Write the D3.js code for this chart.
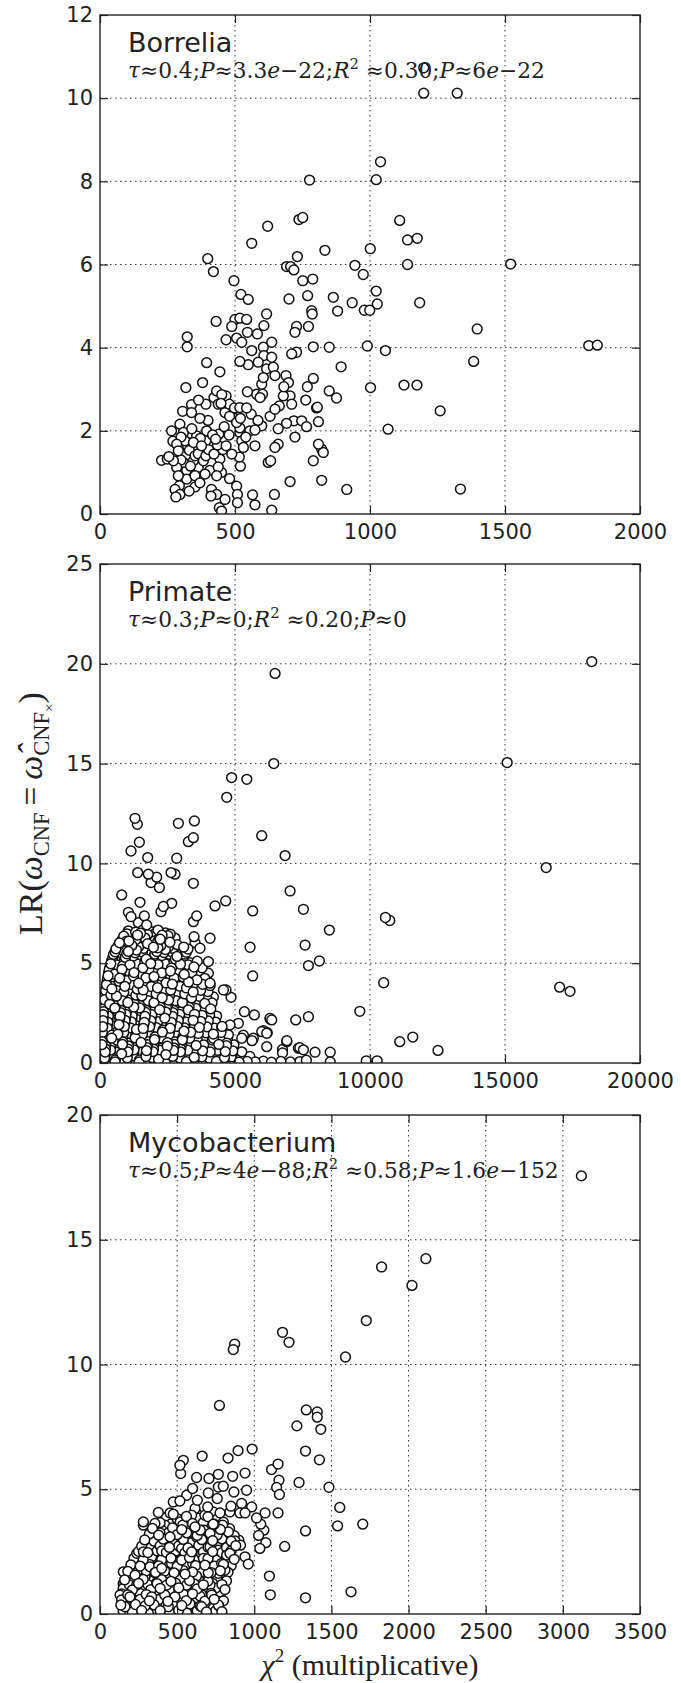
<!DOCTYPE html>
<html>
<head>
<meta charset="utf-8">
<script src="https://cdn.jsdelivr.net/npm/d3@7"></script>
<style>
body { margin: 0; background: #fff; }
</style>
</head>
<body>
<svg width="681" height="1683"></svg>
<script>
// values: [chi2, LR]
var borrelia = [
  [562,6.51],[833,6.34],[399,6.14],[420,5.83],[731,6.19],[691,5.95],[706,5.95],[718,5.87],[944,5.98],[496,5.61],
  [751,5.61],[788,5.65],[522,5.28],[549,5.16],[700,5.17],[769,5.25],[864,5.21],[934,5.08],[880,4.88],[784,4.89],
  [786,4.81],[617,4.81],[430,4.63],[500,4.68],[518,4.71],[543,4.68],[488,4.51],[607,4.53],[728,4.51],[722,4.37],
  [772,4.51],[323,4.26],[323,4.02],[467,4.19],[506,4.23],[525,4.13],[546,4.37],[583,4.33],[636,4.13],[562,3.93],
  [605,4.01],[607,3.81],[636,3.77],[710,3.85],[728,3.89],[790,4.02],[849,4.01],[395,3.64],[518,3.67],[549,3.59],
  [586,3.65],[444,3.42],[893,3.54],[617,3.49],[642,3.53],[648,3.33],[605,3.28],[599,3.12],[602,2.88],[689,3.33],
  [698,3.16],[681,3.06],[704,2.84],[679,2.84],[790,3.26],[768,3.06],[318,3.04],[380,3.16],[849,2.96],[876,2.79],
  [546,2.94],[580,2.88],[593,2.80],[432,2.96],[451,2.87],[467,2.84],[422,2.80],[438,2.64],[365,2.74],[339,2.63],
  [392,2.64],[306,2.47],[339,2.44],[448,2.66],[479,2.64],[498,2.55],[518,2.56],[543,2.55],[463,2.44],[710,2.64],
  [664,2.60],[648,2.52],[762,2.74],[802,2.55],[498,2.30],[506,2.20],[691,2.18],[718,2.24],[747,2.24],[765,2.10],
  [809,2.22],[599,2.12],[518,2.07],[555,2.00],[574,2.02],[722,1.85],[265,2.00],[296,2.16],[309,1.96],[284,1.68],
  [333,1.94],[358,1.88],[395,2.00],[417,1.90],[440,1.92],[392,1.76],[315,1.76],[346,1.72],[376,1.64],[407,1.68],
  [435,1.66],[467,1.64],[488,1.44],[518,1.96],[525,1.76],[531,1.60],[574,1.64],[290,1.52],[331,1.53],[364,1.45],
  [392,1.40],[422,1.44],[444,1.32],[228,1.29],[249,1.32],[272,1.28],[309,1.24],[346,1.28],[383,1.28],[516,1.37],
  [648,1.60],[660,1.68],[623,1.24],[632,1.28],[809,1.68],[821,1.56],[827,1.48],[790,1.28],[284,1.12],[321,1.05],
  [364,1.12],[407,1.05],[438,1.13],[290,0.92],[321,0.84],[352,0.92],[389,0.96],[432,0.92],[294,0.68],[352,0.65],
  [278,0.59],[296,0.47],[281,0.41],[413,0.59],[432,0.47],[463,0.35],[411,0.43],[506,0.67],[509,0.47],[565,0.46],
  [574,0.22],[442,0.15],[450,0.07],[509,0.27],[636,0.09],[646,0.47],[704,0.78],[821,0.81],[914,0.59],
  [300,1.85],[325,1.62],[352,1.40],[372,1.82],[402,1.55],[428,1.80],[455,1.55],[478,1.90],[340,2.05],[370,2.30],
  [400,2.25],[300,1.30],[335,1.15],[255,1.38],[270,1.75],[460,2.10],[480,2.35],[520,2.30],[540,1.85],[560,2.40],
  [585,2.25],[630,2.35],[660,2.05],[450,1.00],[480,0.85],[370,0.75],[330,0.55],[520,1.15],
  [1199,10.12],[1323,10.12],[1199,10.73],[776,8.03],[1039,8.47],[1023,8.04],[737,7.08],[751,7.13],[621,6.92],[1110,7.06],
  [1139,6.59],[1175,6.63],[1001,6.38],[1139,6.0],[1521,6.01],[975,5.76],[1184,5.08],[979,4.90],[999,4.90],[1023,5.36],
  [1027,5.05],[1397,4.45],[1810,4.05],[1842,4.06],[990,4.04],[1057,3.93],[1384,3.67],[1126,3.10],[1174,3.10],[1002,3.04],
  [1260,2.48],[1067,2.04],[1335,0.6],[805,2.57]
]

var primate = [
  // dense mass near the origin
  [1050,6.62],[1320,6.55],[1600,6.68],[1880,6.58],[2150,6.66],[2420,6.52],
  [1000,6.47],[1250,6.41],[1500,6.50],[1760,6.43],[2030,6.48],[2300,6.40],[2600,6.46],
  [880,6.35],[1130,6.22],[1390,6.41],[1660,6.27],[1950,6.33],[2230,6.20],[2520,6.38],[2780,6.25],
  [820,6.17],[1070,6.11],[1330,6.19],[1590,6.12],[1870,6.16],[2140,6.09],[2420,6.18],[2700,6.13],
  [720,6.02],[980,6.10],[1240,5.95],[1480,6.06],[1760,5.98],[2030,6.12],[2310,5.96],[2590,6.05],[2860,5.93],
  [680,5.87],[930,5.81],[1180,5.89],[1430,5.83],[1700,5.86],[1980,5.80],[2250,5.88],[2540,5.82],[2820,5.87],[3100,5.81],
  [590,5.72],[830,5.65],[1080,5.78],[1350,5.66],[1610,5.75],[1880,5.62],[2140,5.77],[2420,5.68],[2700,5.74],[2980,5.64],[3260,5.71],
  [560,5.57],[800,5.51],[1050,5.59],[1300,5.52],[1570,5.56],[1830,5.50],[2100,5.58],[2370,5.53],[2650,5.57],[2930,5.51],[3200,5.55],
  [500,5.44],[730,5.36],[990,5.47],[1220,5.35],[1500,5.42],[1770,5.33],[2030,5.46],[2290,5.38],[2580,5.44],[2850,5.34],[3130,5.45],
  [470,5.27],[690,5.21],[940,5.29],[1190,5.22],[1440,5.26],[1710,5.20],[1970,5.28],[2240,5.23],[2510,5.27],[2790,5.21],[3080,5.25],
  [430,5.12],[650,5.05],[900,5.16],[1160,5.04],[1410,5.13],[1660,5.07],[1930,5.15],[2190,5.02],[2460,5.11],[2740,5.06],[3020,5.14],[3320,5.03],[3600,5.10],
  [400,4.97],[620,4.91],[870,4.99],[1110,4.92],[1370,4.96],[1630,4.90],[1880,4.98],[2150,4.93],[2420,4.97],[2700,4.91],[2980,4.95],[3260,4.92],
  [370,4.82],[600,4.75],[840,4.86],[1080,4.74],[1330,4.84],[1590,4.77],[1840,4.85],[2100,4.73],[2370,4.83],[2650,4.76],[2930,4.86],[3200,4.74],[3480,4.81],[3780,4.77],
  [340,4.67],[570,4.61],[810,4.69],[1050,4.62],[1300,4.66],[1560,4.60],[1810,4.68],[2070,4.63],[2330,4.67],[2610,4.61],[2890,4.65],[3160,4.62],
  [320,4.52],[540,4.45],[780,4.55],[1020,4.44],[1260,4.53],[1520,4.46],[1770,4.56],[2030,4.43],[2290,4.52],[2560,4.47],[2840,4.54],[3120,4.44],[3400,4.53],[3690,4.46],[3950,4.52],
  [300,4.37],[520,4.31],[760,4.39],[1000,4.32],[1240,4.36],[1490,4.30],[1740,4.38],[2000,4.33],[2260,4.37],[2520,4.31],[2800,4.35],[3080,4.32],
  [280,4.22],[500,4.15],[730,4.25],[970,4.13],[1210,4.23],[1450,4.16],[1700,4.26],[1960,4.14],[2220,4.22],[2480,4.17],[2750,4.25],[3030,4.13],[3310,4.23],[3590,4.16],[3880,4.24],
  [260,4.07],[480,4.01],[710,4.09],[950,4.02],[1190,4.06],[1430,4.00],[1680,4.08],[1930,4.03],[2190,4.07],[2450,4.01],[2720,4.05],[3000,4.02],[3280,4.06],
  [240,3.92],[460,3.85],[690,3.95],[920,3.84],[1160,3.93],[1400,3.86],[1650,3.96],[1900,3.83],[2150,3.92],[2410,3.87],[2680,3.95],[2960,3.84],[3230,3.93],[3520,3.86],[3800,3.94],[4080,3.88],
  [230,3.77],[440,3.71],[670,3.79],[900,3.72],[1140,3.76],[1380,3.70],[1630,3.78],[1880,3.73],[2130,3.77],[2390,3.71],[2650,3.75],[2920,3.72],[3200,3.76],
  [210,3.62],[420,3.55],[650,3.65],[880,3.54],[1110,3.63],[1350,3.56],[1600,3.66],[1850,3.53],[2100,3.62],[2360,3.57],[2620,3.65],[2890,3.54],[3170,3.63],[3450,3.56],[3730,3.64],[4000,3.58],
  [200,3.47],[400,3.41],[630,3.49],[860,3.42],[1090,3.46],[1330,3.40],[1580,3.48],[1830,3.43],[2080,3.47],[2330,3.41],[2590,3.45],[2860,3.42],[3140,3.46],
  [180,3.32],[390,3.25],[610,3.35],[840,3.24],[1070,3.33],[1310,3.26],[1550,3.36],[1800,3.23],[2050,3.32],[2300,3.27],[2570,3.35],[2840,3.24],[3110,3.33],[3390,3.26],[3670,3.34],[3950,3.28],[4200,3.31],
  [170,3.17],[370,3.11],[600,3.19],[820,3.12],[1050,3.16],[1290,3.10],[1530,3.18],[1780,3.13],[2030,3.17],[2280,3.11],[2540,3.15],[2810,3.12],[3080,3.16],
  [160,3.02],[360,2.95],[580,3.05],[800,2.94],[1030,3.03],[1270,2.96],[1510,3.06],[1750,2.93],[2000,3.02],[2250,2.97],[2510,3.05],[2780,2.94],[3050,3.03],[3330,2.96],[3610,3.04],[3880,2.98],[4150,3.01],
  [150,2.87],[350,2.81],[570,2.89],[790,2.82],[1020,2.86],[1250,2.80],[1490,2.88],[1730,2.83],[1980,2.87],[2230,2.81],[2490,2.85],[2750,2.82],[3020,2.86],[3300,2.80],
  [140,2.72],[340,2.65],[550,2.75],[770,2.64],[1000,2.73],[1230,2.66],[1470,2.76],[1710,2.63],[1960,2.72],[2210,2.67],[2460,2.75],[2720,2.64],[2990,2.73],[3270,2.66],[3550,2.74],[3830,2.68],[4100,2.71],
  [130,2.57],[330,2.51],[540,2.59],[760,2.52],[980,2.56],[1210,2.50],[1450,2.58],[1690,2.53],[1940,2.57],[2190,2.51],[2440,2.55],[2700,2.52],[2970,2.56],[3240,2.50],
  [120,2.42],[310,2.35],[520,2.45],[740,2.34],[960,2.43],[1190,2.36],[1430,2.46],[1670,2.33],[1920,2.42],[2170,2.37],[2420,2.45],[2680,2.34],[2950,2.43],[3220,2.36],[3500,2.44],[3780,2.38],[4060,2.41],[4320,2.35],
  [115,2.27],[300,2.21],[510,2.29],[730,2.22],[950,2.26],[1180,2.20],[1420,2.28],[1660,2.23],[1900,2.27],[2150,2.21],[2400,2.25],[2660,2.22],[2920,2.26],[3190,2.20],
  [110,2.12],[290,2.05],[500,2.15],[710,2.04],[930,2.13],[1160,2.06],[1400,2.16],[1640,2.03],[1880,2.12],[2130,2.07],[2380,2.15],[2640,2.04],[2900,2.13],[3170,2.06],[3450,2.14],[3730,2.08],[4010,2.11],[4280,2.05],
  [105,1.97],[280,1.91],[490,1.99],[700,1.92],[920,1.96],[1150,1.90],[1380,1.98],[1620,1.93],[1860,1.97],[2110,1.91],[2360,1.95],[2620,1.92],[2880,1.96],[3150,1.90],
  [100,1.82],[270,1.75],[470,1.85],[680,1.74],[900,1.83],[1130,1.76],[1360,1.86],[1600,1.73],[1840,1.82],[2090,1.77],[2340,1.85],[2600,1.74],[2860,1.83],[3130,1.76],[3400,1.84],[3680,1.78],[3960,1.81],[4240,1.75],[4520,1.83],
  [95,1.67],[260,1.61],[460,1.69],[670,1.62],[890,1.66],[1120,1.60],[1350,1.68],[1590,1.63],[1830,1.67],[2080,1.61],[2330,1.65],[2580,1.62],[2840,1.66],[3110,1.60],
  [90,1.52],[250,1.45],[450,1.55],[660,1.44],[880,1.53],[1100,1.46],[1330,1.56],[1570,1.43],[1810,1.52],[2060,1.47],[2310,1.55],[2560,1.44],[2820,1.53],[3090,1.46],[3360,1.54],[3640,1.48],[3920,1.51],[4200,1.45],[4480,1.53],
  [85,1.37],[240,1.31],[440,1.39],[650,1.32],[870,1.36],[1090,1.30],[1320,1.38],[1560,1.33],[1800,1.37],[2040,1.31],[2290,1.35],[2540,1.32],[2800,1.36],[3070,1.30],
  [80,1.22],[230,1.15],[430,1.25],[640,1.14],[850,1.23],[1070,1.16],[1300,1.26],[1540,1.13],[1780,1.22],[2020,1.17],[2270,1.25],[2520,1.14],[2780,1.23],[3050,1.16],[3320,1.24],[3600,1.18],[3880,1.21],[4160,1.15],[4440,1.23],[4720,1.17],
  [75,1.07],[220,1.01],[420,1.09],[630,1.02],[840,1.06],[1060,1.00],[1290,1.08],[1520,1.03],[1760,1.07],[2000,1.01],[2250,1.05],[2500,1.02],[2760,1.06],[3030,1.00],
  [70,0.92],[210,0.85],[410,0.95],[620,0.84],[830,0.93],[1050,0.86],[1280,0.96],[1510,0.83],[1750,0.92],[1990,0.87],[2240,0.95],[2490,0.84],[2750,0.93],[3010,0.86],[3280,0.94],[3560,0.88],[3840,0.91],[4120,0.85],[4400,0.93],[4680,0.87],[4960,0.91],
  [65,0.77],[200,0.71],[400,0.79],[610,0.72],[820,0.76],[1040,0.70],[1270,0.78],[1500,0.73],[1740,0.77],[1980,0.71],[2220,0.75],[2470,0.72],[2730,0.76],[2990,0.70],
  [60,0.62],[190,0.55],[390,0.65],[600,0.54],[810,0.63],[1030,0.56],[1260,0.66],[1490,0.53],[1720,0.62],[1960,0.57],[2210,0.65],[2460,0.54],[2720,0.63],[2980,0.56],[3250,0.64],[3520,0.58],[3800,0.61],[4080,0.55],[4360,0.63],[4640,0.57],[4920,0.61],[5250,0.56],
  [55,0.47],[180,0.41],[380,0.49],[590,0.42],[800,0.46],[1020,0.40],[1250,0.48],[1480,0.43],[1710,0.47],[1950,0.41],[2190,0.45],[2440,0.42],[2700,0.46],[2960,0.40],
  [50,0.32],[170,0.25],[370,0.35],[580,0.24],[790,0.33],[1010,0.26],[1240,0.36],[1470,0.23],[1700,0.32],[1940,0.27],[2180,0.35],[2430,0.24],[2690,0.33],[2950,0.26],[3220,0.34],[3490,0.28],[3770,0.31],[4050,0.25],[4330,0.33],[4610,0.27],[4890,0.31],[5200,0.26],[5550,0.33],
  [45,0.19],[160,0.15],[360,0.21],[570,0.16],[780,0.20],[1000,0.14],[1230,0.19],[1460,0.15],[1690,0.21],[1930,0.16],[2170,0.18],[2420,0.14],[2680,0.20],[2940,0.15],
  [40,0.08],[150,0.04],[350,0.10],[560,0.05],[770,0.09],[990,0.03],[1220,0.08],[1450,0.05],[1680,0.10],[1920,0.04],[2160,0.08],[2410,0.06],[2670,0.09],[2930,0.03],[3200,0.07],[3470,0.05],[3750,0.10],[4030,0.04],[4310,0.08],[4590,0.05],[4870,0.09],[5150,0.04],[5450,0.08],[5750,0.05],[6050,0.09],[6350,0.04],[6700,0.08],[7050,0.05],[7400,0.07],
  // scattered points
  [4693,13.31],[1297,12.26],[1383,11.96],[2903,12.01],[3496,12.13],[5990,11.39],[3273,11.09],[3458,11.29],[1458,11.06],[1149,10.62],
  [1766,10.29],[2841,10.26],[6855,10.39],[1396,9.54],[1791,9.46],[2100,9.31],[1890,9.04],[2199,8.79],[2631,9.54],[2779,9.46],
  [3458,9.00],[803,8.42],[1482,8.05],[7040,8.62],[2656,8.00],[2347,7.84],[2260,7.58],[4261,7.87],[4656,8.12],[5656,7.62],
  [7534,7.70],[1050,7.55],[1149,7.33],[1643,7.37],[1421,7.03],[1729,6.92],[3582,7.37],[3458,7.08],[2013,6.58],[2199,6.25],
  [3483,6.33],[3520,6.03],[3705,5.75],[4076,6.25],[5558,5.80],[7595,5.91],[4014,5.08],[7719,4.88],[5656,4.36],[680,4.66],
  [865,4.83],[3397,4.58],[4014,4.50],[4076,4.00],[4570,3.66],[4668,3.66],[4854,3.29],[5348,2.57],[5718,2.41],[6299,2.24],
  [6361,2.16],[7250,2.16],[7719,2.32],[5126,1.99],[4817,1.91],[4508,1.79],[4755,1.41],[6052,1.62],[6175,1.49],[6917,1.07],
  [7349,0.74],[7534,0.66],[5249,1.24],[5681,1.24],[6175,0.82],[4199,1.24],[4693,0.99],
  [5310,1.39],[5630,1.12],[5990,1.57],[6195,1.52],[6300,2.20],[6920,1.12],[6760,0.50],[7400,0.77],[7643,0.14],
  [6484,19.52],[18214,20.11],[6436,15.0],[15080,15.05],[4875,14.30],[5438,14.21],[16525,9.79],[8495,6.66],[10571,7.29],[10732,7.14],
  [8125,5.11],[10507,4.02],[17023,3.80],[17409,3.59],[9622,2.59],[11102,1.07],[11585,1.30],[12518,0.63],[8527,0.54],[9863,0.11],
  [10265,0.11],[8527,0.05],[7964,0.54],[6758,0.68]
]

var mycobacterium = [
  // fill of the dense lower-left cloud
  [430,3.88],[500,3.82],[560,3.91],[640,3.84],[700,3.90],[760,3.81],
  [390,3.66],[460,3.61],[520,3.69],[600,3.63],[670,3.67],[740,3.60],[800,3.68],
  [340,3.43],[400,3.37],[470,3.45],[530,3.38],[590,3.44],[650,3.36],[720,3.46],[780,3.39],[840,3.42],
  [320,3.21],[380,3.16],[440,3.24],[500,3.18],[570,3.22],[630,3.15],[690,3.23],[760,3.17],[820,3.20],[870,3.14],
  [290,2.97],[350,2.92],[410,3.00],[470,2.93],[540,2.99],[600,2.91],[660,2.98],[730,2.94],[790,3.01],[850,2.92],[900,2.96],
  [270,2.72],[330,2.66],[390,2.74],[450,2.67],[510,2.73],[570,2.65],[640,2.75],[700,2.68],[760,2.71],[820,2.66],[880,2.74],
  [250,2.51],[310,2.46],[370,2.53],[430,2.47],[490,2.52],[550,2.45],[610,2.54],[670,2.48],[730,2.50],[790,2.46],[850,2.53],
  [220,2.23],[280,2.17],[340,2.25],[400,2.18],[460,2.24],[520,2.16],[580,2.26],[640,2.19],[700,2.22],[760,2.17],[820,2.25],[870,2.19],
  [200,1.97],[260,1.92],[320,1.99],[380,1.93],[440,1.98],[500,1.91],[560,2.00],[620,1.94],[680,1.96],[740,1.92],[800,1.99],[850,1.93],
  [180,1.71],[240,1.66],[300,1.73],[360,1.67],[420,1.72],[480,1.65],[540,1.74],[600,1.68],[660,1.70],[720,1.66],[780,1.73],[830,1.67],
  [160,1.37],[220,1.32],[280,1.39],[340,1.33],[400,1.38],[460,1.31],[520,1.40],[580,1.34],[640,1.36],[700,1.32],[760,1.39],[820,1.33],
  [150,1.21],[190,1.17],[250,1.23],[310,1.18],[370,1.22],[430,1.16],[490,1.24],[550,1.19],[610,1.21],[670,1.17],[730,1.23],[790,1.18],
  [150,1.02],[210,0.97],[270,1.04],[330,0.98],[390,1.03],[450,0.96],[510,1.05],[570,0.99],[630,1.01],[690,0.97],[750,1.04],[810,0.98],
  [140,0.81],[180,0.77],[240,0.83],[300,0.78],[360,0.82],[420,0.76],[480,0.84],[540,0.79],[600,0.81],[660,0.77],[720,0.83],[780,0.78],
  [140,0.57],[200,0.52],[260,0.59],[320,0.53],[380,0.58],[440,0.51],[500,0.60],[560,0.54],[620,0.56],[680,0.52],[740,0.59],[800,0.53],
  [135,0.36],[170,0.32],[230,0.38],[290,0.33],[350,0.37],[410,0.31],[470,0.39],[530,0.34],[590,0.36],[650,0.32],[710,0.38],[770,0.33],
  [150,0.12],[210,0.08],[270,0.14],[330,0.09],[390,0.13],[450,0.07],[510,0.15],[570,0.10],[630,0.12],[690,0.08],[750,0.13],[790,0.09],
  // individual circles
  [540,6.16],[518,5.96],[523,5.63],[1145,5.07],[626,5.47],[706,5.43],[767,5.60],[860,5.52],[940,5.65],[600,5.03],
  [631,4.56],[702,4.85],[767,5.09],[799,5.12],[868,4.89],[950,4.96],[475,4.49],[518,4.53],[562,4.76],[616,4.23],
  [698,4.29],[760,4.63],[849,4.32],[918,4.43],[983,4.29],[378,4.07],[454,4.05],[475,4.00],[551,3.83],[594,3.96],
  [626,4.03],[680,3.96],[734,4.09],[778,4.05],[842,4.09],[907,4.05],[940,4.05],[1015,3.85],[281,3.69],[281,3.56],
  [356,3.63],[421,3.56],[536,3.56],[616,3.49],[674,3.36],[734,3.60],[795,3.56],[832,3.29],[1062,3.36],[389,3.25],
  [454,3.09],[508,3.16],[562,3.25],[626,3.09],[713,3.23],[821,3.16],[875,2.93],[911,2.76],[940,2.29],[961,2.00],
  [238,2.43],[281,2.49],[335,2.29],[400,2.53],[464,2.56],[529,2.63],[594,2.49],[659,2.40],[713,2.69],[767,2.56],
  [821,2.36],[259,2.03],[324,1.89],[400,1.83],[464,2.03],[529,2.16],[600,2.03],[670,2.23],[734,2.09],[788,2.03],
  [842,2.43],[151,1.69],[227,1.56],[292,1.49],[356,1.65],[421,1.52],[486,1.69],[551,1.60],[626,1.52],[702,1.65],
  [767,1.63],[810,1.76],[162,1.23],[238,1.16],[302,1.09],[367,1.25],[432,1.16],[497,1.23],[562,1.16],[637,1.23],
  [713,1.16],[788,1.23],[130,0.76],[194,0.69],[259,0.83],[335,0.69],[410,0.76],[486,0.69],[562,0.83],[648,0.72],
  [724,0.76],[778,0.89],[162,0.29],[227,0.23],[292,0.32],[367,0.36],[443,0.29],[508,0.23],[583,0.40],[659,0.29],
  [734,0.23],[767,0.36],[194,0.03],[313,0.03],[432,0.03],[562,0.03],[691,0.03],
  [3120,17.56],[2112,14.24],[1825,13.91],[2022,13.17],[1726,11.76],[1183,11.29],[1225,10.89],[873,10.82],[864,10.60],[1591,10.30],
  [774,8.36],[1337,8.18],[1408,8.10],[1408,7.89],[1431,7.40],[1276,7.54],[1332,6.53],[1422,6.18],[986,6.61],[895,6.55],
  [830,6.25],[662,6.33],[1290,5.27],[1484,5.08],[1554,4.27],[1703,3.60],[1540,3.53],[1332,3.33],[1197,2.71],[1098,1.52],
  [1104,0.77],[1332,0.65],[1627,0.89],[1154,6.01],[1112,5.79],[1160,5.36],[1163,4.79],[1154,4.05],[1070,4.05],[1042,3.60],
  [1028,3.15],[1075,2.86],[1036,2.63]
]

var names = ['Borrelia', 'Primate', 'Mycobacterium']
var stats = [
  'τ≈0.4;P≈3.3e−22;R^2 ≈0.30;P≈6e−22',
  'τ≈0.3;P≈0;R^2 ≈0.20;P≈0',
  'τ≈0.5;P≈4e−88;R^2 ≈0.58;P≈1.6e−152'
]
var xTicks = [[0,500,1000,1500,2000], [0,5000,10000,15000,20000], [0,500,1000,1500,2000,2500,3000,3500]]
var yTicks = [[0,2,4,6,8,10,12], [0,5,10,15,20,25], [0,5,10,15,20]]
var series = [borrelia, primate, mycobacterium]

var svg = d3.select('svg')
var left = 100, right = 640, h = 499
var tops = [15, 564, 1115]
var sans = 'DejaVu Sans, sans-serif'
var serif = 'DejaVu Serif, serif'

function mathText(sel, str) {
  var parts = str.split(/(\^2|[τPRe])/).filter(s => s.length)
  var up = false
  parts.forEach(p => {
    var t = sel.append('tspan')
    if (p === '^2') {
      // 0.6em of the smaller size = 0.408em of the line size
      t.text('2').attr('font-size', '0.68em').attr('dy', '-0.6em')
      up = true
      return
    }
    if (up) { t.attr('dy', '0.408em'); up = false }
    t.text(p)
    if ('τPRe'.includes(p)) t.attr('font-style', 'italic')
  })
}

// drawing order only: interleave the points so overlaps look like the original's
function gcd(a, b) { return b ? gcd(b, a % b) : a }
function mixed(arr) {
  var n = arr.length, k = Math.round(n * 0.618)
  while (gcd(k, n) !== 1) k++
  return arr.map((d, i) => arr[(i * k) % n])
}

var statTexts = []
series.forEach((pts, i) => {
  var top = tops[i]
  var xt = xTicks[i], yt = yTicks[i]
  var x = d3.scaleLinear().domain([xt[0], xt[xt.length - 1]]).range([left, right])
  var y = d3.scaleLinear().domain([yt[0], yt[yt.length - 1]]).range([top + h, top])
  var g = svg.append('g')

  g.append('clipPath').attr('id', 'clip' + i)
    .append('rect').attr('x', left).attr('y', top).attr('width', right - left).attr('height', h)

  // dotted grid
  var grid = g.append('g').attr('stroke', '#333').attr('stroke-width', 1).attr('stroke-dasharray', '1.5,3.5')
  grid.selectAll('.gx').data(xt.slice(1, -1)).enter().append('line')
    .attr('x1', d => x(d)).attr('x2', d => x(d)).attr('y1', top).attr('y2', top + h)
  grid.selectAll('.gy').data(yt.slice(1, -1)).enter().append('line')
    .attr('y1', d => y(d)).attr('y2', d => y(d)).attr('x1', left).attr('x2', right)

  // open circles
  g.append('g').attr('clip-path', 'url(#clip' + i + ')')
    .selectAll('circle').data(mixed(pts)).enter().append('circle')
    .attr('cx', d => x(d[0])).attr('cy', d => y(d[1])).attr('r', 4.9)
    .attr('fill', '#fff').attr('stroke', '#111').attr('stroke-width', 1.5)

  // ticks inside on all four sides
  var ax = [
    g.append('g').attr('transform', `translate(0,${top + h})`)
      .call(d3.axisBottom(x).tickValues(xt).tickSize(-8).tickPadding(10).tickFormat(d3.format('d'))),
    g.append('g').attr('transform', `translate(${left},0)`)
      .call(d3.axisLeft(y).tickValues(yt).tickSize(-8).tickPadding(7).tickFormat(d3.format('d'))),
    g.append('g').attr('transform', `translate(0,${top})`)
      .call(d3.axisTop(x).tickValues(xt).tickSize(-8).tickFormat('')),
    g.append('g').attr('transform', `translate(${right},0)`)
      .call(d3.axisRight(y).tickValues(yt).tickSize(-8).tickFormat(''))
  ]
  ax.forEach(a => {
    a.select('.domain').remove()
    a.selectAll('line').attr('stroke', '#222').attr('stroke-width', 1.2)
    a.selectAll('text').attr('font-family', sans).attr('font-size', 21).attr('fill', '#222')
  })

  g.append('rect').attr('x', left).attr('y', top).attr('width', right - left).attr('height', h)
    .attr('fill', 'none').attr('stroke', '#222').attr('stroke-width', 1.4)

  g.append('text').attr('x', 128).attr('y', top + 37)
    .attr('font-family', sans).attr('font-size', 27).attr('fill', '#222').text(names[i])
  var st = g.append('text').attr('x', 128).attr('y', top + 63)
    .attr('font-family', serif).attr('font-size', 21).attr('fill', '#222')
  mathText(st, stats[i])
  statTexts.push(st)
})

// the Borrelia line is about 417px long in the picture; size all three alike
var fs = 21 * 417 / statTexts[0].node().getComputedTextLength()
statTexts.forEach(t => t.attr('font-size', fs))

// y axis label, centred on the middle panel
var yl = svg.append('text')
  .attr('font-family', 'Liberation Serif, serif').attr('font-size', 31).attr('fill', '#222')
yl.append('tspan').text('LR(')
yl.append('tspan').attr('font-style', 'italic').text('ω')
yl.append('tspan').attr('font-size', '0.66em').attr('dy', 7).text('CNF')
yl.append('tspan').attr('dy', -7).text('\u2009=\u2009')
yl.append('tspan').attr('font-style', 'italic').text('ω\u0302')
yl.append('tspan').attr('font-size', '0.66em').attr('dy', 7).text('CNF')
yl.append('tspan').attr('font-size', '0.45em').attr('dy', 5).text('×')
yl.append('tspan').attr('dy', -12).text(')')
var ylFs = Math.min(34, Math.max(26, 31 * 245 / yl.node().getComputedTextLength()))
yl.attr('font-size', ylFs)
var ylLen = yl.node().getComputedTextLength()
yl.attr('transform', `translate(42,${tops[1] + h / 2 + ylLen / 2}) rotate(-90)`)

// x axis label
var xl = svg.append('text')
  .attr('x', (left + right) / 2).attr('y', tops[2] + h + 61)
  .attr('text-anchor', 'middle').attr('font-family', 'Liberation Serif, serif').attr('font-size', 30).attr('fill', '#222')
xl.append('tspan').attr('font-style', 'italic').text('χ')
xl.append('tspan').attr('font-size', 19).attr('dy', -13).text('2')
xl.append('tspan').attr('dy', 13).text(' (multiplicative)')
</script>
</body>
</html>
